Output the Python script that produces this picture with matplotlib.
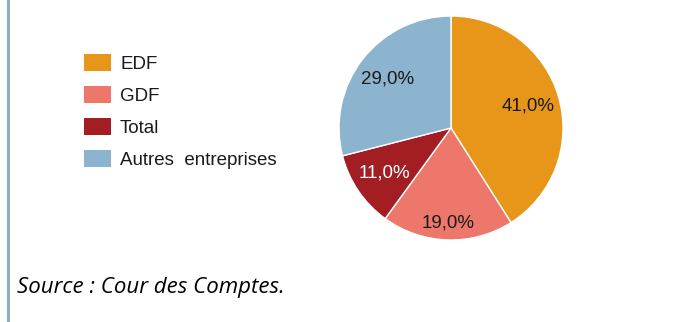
import matplotlib.pyplot as plt
from matplotlib.lines import Line2D

# data
labels = ['EDF', 'GDF', 'Total', 'Autres  entreprises']
shares = [41.0, 19.0, 11.0, 29.0]
colors = ['#E8961A', '#EE776B', '#A21E22', '#8CB4CF']
pct_colors = ['#1a1a1a', '#1a1a1a', 'white', '#1a1a1a']
source = 'Source : Cour des Comptes.'

W, H = 696, 322
fig = plt.figure(figsize=(W / 100, H / 100), dpi=100)
plt.rcParams['font.family'] = ['Liberation Sans', 'DejaVu Sans']

# pie: centre (451,128) px, radius 112 px
cx, cy, r = 451, 128, 112
ax = fig.add_axes([(cx - r) / W, (H - cy - r) / H, 2 * r / W, 2 * r / H])
wedges, texts, autotexts = ax.pie(
    shares, colors=colors, startangle=90, counterclock=False,
    autopct=lambda p: ('%.1f%%' % p).replace('.', ','), pctdistance=0.72,
    wedgeprops=dict(edgecolor='white', linewidth=1),
    textprops=dict(fontsize=13.5))
for t, c in zip(autotexts, pct_colors):
    t.set_color(c)
# the 19,0% label sits further out
x, y = autotexts[1].get_position()
autotexts[1].set_position((x * 0.85 / 0.72, y * 0.85 / 0.72))
ax.set_xlim(-1, 1)
ax.set_ylim(-1, 1)
ax.set_aspect('equal')
ax.axis('off')

# legend on the left
leg = fig.legend(wedges, labels, loc='upper left',
                 bbox_to_anchor=(84 / W, 1 - 54 / H), frameon=False,
                 fontsize=13.5, handlelength=1.42, handleheight=1.05,
                 handletextpad=0.5, labelspacing=0.68, borderpad=0,
                 borderaxespad=0)
for h in leg.legend_handles:
    h.set_edgecolor('none')
for t in leg.get_texts():
    t.set_color('#1a1a1a')

# source note
fig.text(17 / W, 1 - 293 / H, source, fontsize=16, style='italic',
         family=['Open Sans', 'DejaVu Sans'], va='baseline', color='black')

# left border line
fig.add_artist(Line2D([7.5 / W, 7.5 / W], [0, 1], color='#88AFC4',
                      linewidth=2.2, transform=fig.transFigure))

fig.savefig('out.png', dpi=100)
